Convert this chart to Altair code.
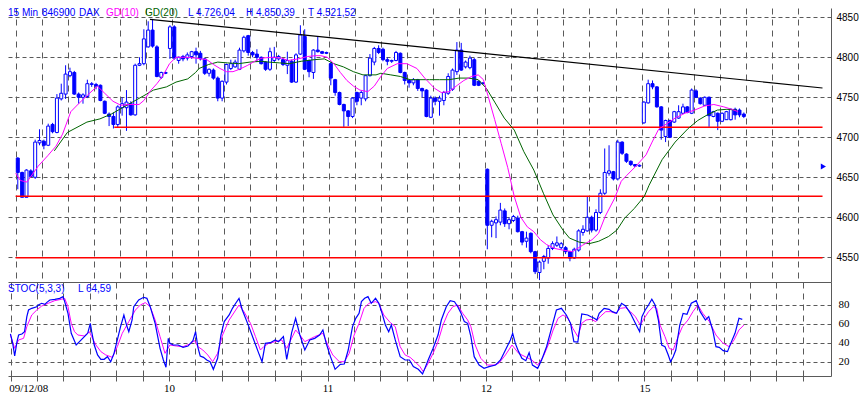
import altair as alt
import pandas as pd

# ---------------- data (15-min DAX candles, bar index = 15-min slot) ----------------
opens = [4674,4656,4625,4658,4650,4693,4695,4690,4716,4706,4748,4754,4777,4781,4754,4750,4751,4766,4766,4765,4745,4729,4726,4716,4737,4737,4742,4728,4790,4792,4813,4834,4813,4775,4781,4811,
         4838,4796,4801,4799,4801,4807,4805,4798,4780,4784,4774,4749,4769,4786,4788,4785,4808,4827,4806,4804,4800,4794,4785,4796,4798,4797,4790,4795,4769,4804,4826,4796,4781,4809,4807,4806,
         4792,4772,4756,4741,4733,4726,4756,4749,4748,4777,4794,4811,4810,4797,4795,4796,4805,4781,4771,4768,4772,4761,4759,4725,4749,4745,4746,4755,4760,4782,4809,4788,4787,4797,4770,4768,
         4660,4590,4593,4594,4608,4592,4596,4599,4582,4570,4580,4557,4531,4545,4549,4561,4565,4562,4562,4557,4549,4559,4581,4583,4600,4584,4606,4630,4655,4657,4648,4694,4679,4670,4666,4664,
         4718,4743,4767,4763,4738,4701,4721,4719,4724,4730,4738,4730,4758,4749,4740,4750,4726,4730,4720,4722,4722,4735,4734,4729]
highs = [4675,4657,4660,4660,4697,4710,4697,4717,4718,4754,4767,4790,4787,4783,4756,4755,4772,4769,4768,4766,4746,4731,4731,4740,4750,4759,4745,4792,4800,4835,4845,4848,4815,4782,4782,4840,
         4840,4801,4803,4806,4808,4812,4808,4799,4786,4786,4776,4771,4792,4797,4797,4812,4827,4828,4808,4810,4801,4795,4812,4813,4803,4799,4807,4797,4805,4840,4835,4797,4810,4826,4808,4807,
         4794,4773,4757,4742,4734,4750,4757,4758,4778,4804,4813,4815,4812,4800,4797,4808,4806,4782,4773,4774,4773,4762,4760,4752,4751,4752,4758,4780,4786,4819,4818,4796,4802,4799,4771,4769,
         4661,4597,4601,4618,4611,4600,4603,4602,4583,4582,4581,4558,4546,4553,4565,4570,4576,4569,4564,4558,4562,4585,4590,4626,4602,4610,4635,4686,4690,4658,4697,4695,4680,4671,4666,4666,
         4745,4772,4771,4764,4739,4722,4722,4733,4740,4742,4739,4761,4760,4750,4751,4751,4733,4731,4731,4733,4736,4737,4736,4731]
lows = [4635,4625,4625,4650,4648,4690,4685,4689,4705,4705,4746,4748,4775,4753,4742,4742,4749,4763,4760,4745,4729,4714,4711,4712,4727,4708,4727,4727,4789,4790,4812,4812,4775,4773,4779,4798,
        4797,4792,4795,4796,4798,4792,4796,4778,4776,4772,4745,4745,4766,4784,4787,4784,4806,4802,4800,4794,4791,4783,4783,4794,4796,4789,4779,4768,4768,4803,4784,4775,4773,4806,4804,4804,
        4765,4752,4740,4713,4714,4724,4740,4740,4745,4776,4790,4804,4795,4790,4793,4795,4780,4766,4762,4765,4758,4750,4725,4724,4740,4727,4740,4753,4758,4778,4783,4786,4785,4764,4764,4766,
        4560,4575,4574,4590,4588,4585,4594,4581,4565,4562,4555,4529,4521.5,4535,4542,4559,4563,4560,4554,4545,4548,4557,4577,4582,4581,4582,4604,4628,4652,4646,4646,4678,4668,4664,4663,4663,
        4717,4742,4760,4737,4697,4694,4699,4718,4723,4729,4730,4729,4749,4741,4739,4713,4725,4709,4719,4722,4721,4722,4725,4724]
closes = [4656,4625,4659,4651,4694,4696,4690,4714,4707,4749,4755,4779,4782,4754,4750,4753,4767,4767,4764,4746,4730,4726,4716,4738,4742,4744,4728,4790,4792,4823,4834,4814,4776,4781,4780,4838,
          4799,4800,4798,4803,4807,4803,4798,4780,4785,4774,4749,4770,4791,4792,4794,4809,4825,4806,4803,4800,4792,4785,4807,4800,4801,4791,4796,4769,4803,4828,4785,4782,4809,4807,4805,4805,
          4774,4756,4741,4733,4726,4749,4745,4756,4777,4799,4811,4806,4797,4795,4796,4806,4781,4771,4768,4772,4761,4758,4726,4749,4745,4749,4756,4776,4784,4809,4784,4794,4799,4765,4765,4767,
          4590,4595,4597,4609,4592,4597,4601,4582,4569,4574,4557,4532,4544,4551,4561,4567,4568,4567,4557,4549,4560,4583,4585,4600,4584,4606,4630,4656,4658,4648,4694,4680,4670,4666,4664,4665,
          4744,4767,4763,4738,4709,4721,4700,4732,4732,4738,4731,4759,4750,4742,4750,4727,4732,4720,4730,4732,4735,4728,4728,4726]

# moving averages (x = bar slot)
ma10_x = [0,1.1,2.6,5.2,7.4,9.3,10.8,12.7,14.5,16.8,18.8,20.5,22.4,24.2,26.1,28.4,29.5,31.0,32.5,33.9,35.4,36.9,39.2,41.4,44.0,45.5,47.0,48.5,50.0,51.5,53.4,55.3,56.7,59.0,61.2,62.7,65.0,67.2,69.1,70.2,71.7,73.2,74.7,76.2,77.7,79.2,81.0,82.5,84.0,85.5,87.8,90.0,92.3,94.1,96.4,97.9,99.7,101.6,103.1,104.9,106.4,107.6,108.7,110.2,111.7,113.2,114.7,116.2,117.7,119.2,120.7,122.1,124.0,125.9,128.1,130.4,132.6,134.1,135.6,137.8,139.3,140.5,142.7,145.0,146.4,147.9,149.8,151.7,153.9,156.2,158.4,160.6,162.9,164.7,166.2]
ma10_y = [4655,4646,4644,4664,4677,4689,4704,4732,4742,4754,4764,4755,4745,4740,4741,4741,4746,4758,4767,4777,4792,4800,4800,4799,4797,4791,4786,4782,4782,4785,4790,4796,4799,4800,4799,4796,4798,4801,4802,4802,4800,4792,4781,4771,4764,4759,4757,4764,4776,4786,4792,4792,4786,4774,4761,4756,4757,4765,4771,4776,4778,4772,4751,4722,4692,4662,4626,4600,4588,4582,4572,4566,4561,4559,4557,4565,4572,4580,4601,4624,4645,4652,4664,4678,4694,4710,4717,4724,4730,4734,4739,4741,4738,4735,4732]
ma20_x = [8.9,11.9,16.4,19.4,22.0,24.6,27.2,29.5,31.7,34.7,36.9,39.6,41.4,42.2,44.4,46.5,48.7,51.3,53.9,56.5,58.2,60.7,62.9,65.7,68.7,71.0,73.2,75.4,77.7,79.9,82.9,84.0,86.3,88.5,90.7,93.0,95.2,97.5,99.7,102.0,104.2,106.4,108.3,110.2,112.4,114.7,116.9,119.2,121.4,123.6,125.9,127.4,129.6,131.9,134.1,136.4,138.3,140.1,142.3,144.6,145.7,148.7,151.7,154.7,156.9,159.1,161.4,163.6,165.9]
ma20_y = [4683,4706,4719,4723,4729,4737,4745,4752,4759,4763,4769,4773,4781,4786,4791,4794,4793,4792,4794,4795,4794,4793,4792,4795,4797,4798,4792,4788,4782,4778,4778,4780,4778,4776,4772,4772,4772,4772,4772,4774,4774,4772,4761,4744,4724,4709,4682,4659,4630,4603,4584,4574,4569,4567,4570,4576,4584,4599,4611,4626,4640,4672,4694,4711,4721,4728,4734,4735,4734]

# stochastic %K and %D
k_x = [-0.05,0.47,0.92,1.44,1.81,2.56,3.16,3.68,4.06,4.8,5.93,6.3,7.05,7.79,8.17,8.91,10.04,11.16,11.9,12.28,13.03,13.77,14.89,15.64,16.76,17.51,18.11,18.41,19.0,19.75,20.5,21.25,22.0,22.74,23.49,24.24,24.98,25.73,26.33,26.85,27.6,27.97,29.1,30.22,30.96,31.71,32.83,33.95,34.7,35.3,35.82,36.19,36.94,38.06,39.18,40.3,41.42,42.02,42.55,43.07,43.82,44.56,45.31,46.06,47.03,47.78,48.53,49.65,50.4,51.14,51.89,52.64,54.13,55.25,56.38,57.12,57.87,58.99,60.11,60.86,61.98,62.73,63.85,
       64.75,65.72,66.84,67.96,69.08,70.2,70.95,71.7,72.67,73.72,74.91,75.81,76.7,77.68,78.42,79.17,79.7,80.44,81.19,81.94,82.91,83.66,84.4,85.15,85.9,86.5,87.39,88.51,89.63,90.61,91.5,92.62,93.6,94.12,94.87,95.99,97.11,97.86,98.98,99.87,100.85,101.59,102.34,103.09,103.84,104.58,105.33,106.45,107.57,108.69,110.19,111.31,112.43,113.55,114.07,114.67,115.42,116.17,117.06,117.81,118.56,119.75,120.65,121.77,122.89,124.01,125.14,126.26,127.23,127.98,
       128.87,129.77,131.11,131.86,132.61,133.2,133.73,134.85,135.97,136.72,137.69,138.81,139.71,140.83,141.95,142.92,143.44,144.19,144.94,145.69,146.43,147.18,147.93,148.68,149.42,149.95,150.54,151.14,152.04,152.79,153.68,154.65,155.78,156.67,157.87,158.62,159.51,160.26,161.01,161.9,162.88,163.62,164.59,165.49,166.24]
k_y = [49.5,39.6,26.3,41.4,48.4,49.5,51.9,67.7,74.7,76.5,78.2,80.0,81.8,80.7,82.5,85.3,86.0,87.0,88.8,83.5,71.2,50.2,37.9,41.4,46.7,50.2,60.7,51.9,37.9,27.4,22.8,22.8,25.6,20.3,29.1,43.2,57.2,69.5,58.9,51.9,64.2,78.2,85.3,88.1,87.0,78.2,60.7,34.4,22.1,14.4,44.9,39.6,37.9,37.9,35.4,36.8,42.5,51.9,35.4,26.3,24.9,22.1,20.3,12.3,23.9,48.4,62.5,69.5,76.5,81.8,87.0,74.7,57.2,43.2,29.1,20.3,39.6,40.3,43.2,41.4,46.7,22.8,51.0,
       66.0,48.4,32.6,43.2,44.9,48.4,53.7,39.6,25.6,12.3,17.5,17.9,32.6,57.2,66.0,71.2,83.5,87.0,88.8,81.8,87.0,81.8,71.2,58.9,51.9,58.9,43.2,25.6,22.1,22.1,15.1,12.3,7.4,13.3,22.1,34.4,48.4,64.2,78.2,84.6,83.5,78.2,71.2,62.5,60.7,46.7,25.6,16.8,13.3,15.1,16.8,22.1,32.6,43.2,50.2,39.6,30.9,23.9,21.4,29.8,16.8,13.3,22.1,36.1,55.4,74.7,76.5,69.5,60.7,41.4,
       41.0,70.5,69.5,67.7,66.0,64.2,71.2,76.5,75.4,73.0,71.2,81.8,79.0,71.2,60.7,51.9,67.7,74.7,80.0,86.0,80.0,64.2,37.9,36.1,27.4,20.3,25.6,32.6,58.9,71.2,70.2,81.8,84.6,73.0,64.2,67.7,53.7,36.1,35.4,31.9,30.9,39.6,50.2,66.0,64.9]
d_x = [-0.05,0.92,1.81,2.94,3.68,4.8,5.93,7.05,8.54,10.04,11.53,12.28,13.03,13.77,14.52,15.27,16.76,17.88,18.41,19.38,20.5,21.62,23.12,24.24,25.36,26.85,28.35,29.47,30.59,31.71,32.83,33.95,35.07,36.19,37.69,39.18,40.68,41.8,42.55,43.67,44.79,45.91,47.03,48.15,49.65,51.14,51.89,53.01,54.5,55.63,56.75,57.49,58.62,60.11,61.6,62.73,63.85,
       64.75,65.72,66.84,69.08,70.95,72.07,73.19,74.69,75.81,76.93,78.05,79.17,80.29,81.41,82.91,83.66,84.78,86.27,87.39,88.51,89.63,90.76,91.88,93.0,93.75,94.87,95.99,97.11,98.23,99.35,100.47,101.59,102.71,103.84,104.58,105.55,106.82,108.32,109.81,110.93,112.43,113.92,115.42,116.91,118.41,119.75,121.02,122.14,123.27,124.39,125.51,126.63,127.75,
       128.87,129.77,130.74,131.86,132.98,134.1,135.22,136.34,137.46,138.59,139.71,140.83,141.95,143.07,143.82,144.94,146.06,146.81,147.55,148.68,149.65,150.54,151.67,152.64,153.91,155.03,156.15,157.27,158.77,160.26,161.75,163.25,164.37,165.49,166.61]
d_y = [48.4,34.4,43.2,44.9,57.2,69.5,74.7,78.9,81.8,84.6,86.0,87.0,78.2,60.7,51.9,48.4,47.4,51.9,46.7,37.9,30.9,27.4,24.9,36.1,50.2,62.5,74.7,80.0,82.5,78.2,64.2,46.7,29.1,37.9,36.8,36.1,38.9,42.5,36.1,32.6,27.4,20.3,29.1,48.4,64.2,74.7,80.0,73.0,60.7,46.7,32.6,36.1,39.6,41.4,43.2,34.4,45.0,
       53.7,48.4,41.4,46.7,50.2,37.9,27.4,20.3,20.3,29.1,48.4,60.7,76.5,81.8,83.5,81.8,69.5,61.4,57.2,36.1,27.4,24.9,20.3,15.1,9.8,18.6,29.1,41.4,58.9,71.2,78.2,80.0,71.2,64.2,57.2,37.9,23.9,16.8,16.8,18.6,27.4,37.9,29.1,25.6,22.1,16.8,25.6,37.9,53.7,66.0,69.5,66.0,55.4,
       46.7,60.7,64.2,64.9,62.5,68.4,73.0,73.0,71.2,76.5,77.2,73.0,67.7,58.9,64.9,73.0,78.2,76.5,58.9,46.7,34.4,32.6,46.7,57.2,64.2,73.0,80.0,71.2,62.5,48.4,40.3,36.1,43.2,53.7,58.9]

# lines drawn on the chart
support_levels = [4626.3, 4549.5, 4712.5]
support_from = [0, 0, 22.7]
lines_to = 185.6
trend_x = [30.9, 185.6]
trend_y = [4847.5, 4761.6]
marker_x = [185.8]
marker_y = [4663.5]

# axis ticks / labels
day_starts = [0, 36, 72, 108, 144]
day_labels = ["09/12/08", "10", "11", "12", "15"]
grid_slots = list(range(0, 181, 6))
price_ticks = [4550, 4600, 4650, 4700, 4750, 4800, 4850]
stoch_ticks = [20, 40, 60, 80]

header_texts = ["15 Min", "846900", "DAX", "GD(10)", "GD(20)", "L  4.726,04", "H  4.850,39", "T  4.521,52"]
stoc_texts = ["STOC(5,3,3)", "L  64,59"]

# ---------------- styling ----------------
BLUE = "#0000ff"
MAGENTA = "#ff00ff"
GREEN = "#006400"
RED = "#ff0000"
GRID = "#5a5a5a"
W = 823
H1 = 274
H2 = 94

xs = alt.Scale(domain=[-0.6, 186.4], nice=False, zero=False)
ys_price = alt.Scale(domain=[4519.1, 4861.6], nice=False, zero=False)
ys_stoch = alt.Scale(domain=[5.26, 104.2], nice=False, zero=False)

x_axis_price = alt.Axis(values=grid_slots, labels=False, ticks=False, domain=True, domainColor=GRID,
                        grid=True, gridColor=GRID, gridDash=[6, 5], gridWidth=1, title=None)
label_expr = " : ".join(f"datum.value == {s} ? '{l}'" for s, l in zip(day_starts, day_labels)) + " : ''"
x_axis_stoch = alt.Axis(values=grid_slots, labelExpr=label_expr, labelOverlap=False,
                        labelAlign={"condition": {"test": "datum.value == 0", "value": "left"}, "value": "center"},
                        labelOffset={"condition": {"test": "datum.value == 0", "value": -2}, "value": 0},
                        labelFont="Liberation Serif", labelFontSize=11, labelColor="black", labelPadding=1,
                        ticks=True, tickSize=5, tickColor=GRID, domain=True, domainColor=GRID,
                        grid=True, gridColor=GRID, gridDash=[6, 5], gridWidth=1, title=None)
y_axis_price = alt.Axis(orient="right", values=price_ticks, format="d", labelFont="Liberation Sans", labelFontSize=10,
                        labelColor="black", labelPadding=5, ticks=False, domain=True, domainColor=GRID,
                        grid=True, gridColor=GRID, gridDash=[4, 3], gridWidth=1, title=None)
y_axis_stoch = alt.Axis(orient="right", values=stoch_ticks, format="d", labelFont="Liberation Serif", labelFontSize=11,
                        labelColor="black", labelPadding=7, ticks=False, domain=True, domainColor=GRID,
                        grid=True, gridColor=GRID, gridDash=[4, 3], gridWidth=1, title=None)


def px(field):
    return alt.X(field, type="quantitative", scale=xs, axis=x_axis_price)


def py(field):
    return alt.Y(field, type="quantitative", scale=ys_price, axis=y_axis_price)


# ---------------- price panel ----------------
cdf = pd.DataFrame({"bar": list(range(len(opens))), "open": opens, "high": highs, "low": lows, "close": closes})
base = alt.Chart(cdf).transform_calculate(mid="datum.bar + 0.5")

wicks = base.mark_rule(color=BLUE, strokeWidth=1).encode(x=px("mid"), y=py("low"), y2="high:Q")
bodies = base.mark_bar(size=3, stroke=BLUE, strokeWidth=1).encode(
    x=px("mid"), y=py("open"), y2="close:Q",
    fill=alt.condition("datum.close >= datum.open", alt.value("white"), alt.value(BLUE)),
)

lv = pd.DataFrame({"level": support_levels, "start": support_from, "end": [lines_to] * len(support_levels)})
red_lines = alt.Chart(lv).mark_rule(color=RED, strokeWidth=1.6).encode(x=px("start"), x2="end:Q", y=py("level"))
trend = alt.Chart(pd.DataFrame({"x": trend_x, "y": trend_y})).mark_line(color="black", strokeWidth=1.2).encode(
    x=px("x"), y=py("y"))
ma10 = alt.Chart(pd.DataFrame({"x": ma10_x, "y": ma10_y})).mark_line(color=MAGENTA, strokeWidth=1).encode(
    x=px("x"), y=py("y"))
ma20 = alt.Chart(pd.DataFrame({"x": ma20_x, "y": ma20_y})).mark_line(color=GREEN, strokeWidth=1).encode(
    x=px("x"), y=py("y"))
marker = alt.Chart(pd.DataFrame({"x": marker_x, "y": marker_y})).mark_point(
    shape="triangle-right", filled=True, color=BLUE, size=35, opacity=1).encode(x=px("x"), y=py("y"))

header_colors = [BLUE, BLUE, BLUE, MAGENTA, GREEN, BLUE, BLUE, BLUE]
header_px = [0, 34, 71, 98, 137, 180, 238, 300]
header_layers = [
    alt.Chart(pd.DataFrame({"t": [t]})).mark_text(
        align="left", baseline="top", font="Liberation Sans", fontSize=10, color=c
    ).encode(text="t:N", x=alt.value(p), y=alt.value(0))
    for t, c, p in zip(header_texts, header_colors, header_px)
]

price = alt.layer(wicks, bodies, red_lines, trend, ma20, ma10, marker, *header_layers).properties(width=W, height=H1)


# ---------------- stochastic panel ----------------
def sx(field):
    return alt.X(field, type="quantitative", scale=xs, axis=x_axis_stoch)


def sy(field):
    return alt.Y(field, type="quantitative", scale=ys_stoch, axis=y_axis_stoch)


k_line = alt.Chart(pd.DataFrame({"x": k_x, "y": k_y})).mark_line(color=BLUE, strokeWidth=1.2).encode(
    x=sx("x"), y=sy("y"))
d_line = alt.Chart(pd.DataFrame({"x": d_x, "y": d_y})).mark_line(color=MAGENTA, strokeWidth=1).encode(
    x=sx("x"), y=sy("y"))
stoc_px = [0, 70]
stoc_layers = [
    alt.Chart(pd.DataFrame({"t": [t]})).mark_text(
        align="left", baseline="top", font="Liberation Sans", fontSize=10, color=BLUE
    ).encode(text="t:N", x=alt.value(p), y=alt.value(2))
    for t, p in zip(stoc_texts, stoc_px)
]
stoch = alt.layer(d_line, k_line, *stoc_layers).properties(width=W, height=H2)

chart = (
    alt.vconcat(price, stoch, spacing=0)
    .properties(padding=0, background="white")
    .configure_view(stroke=None)
)

chart.save("out.html", embed_options={"renderer": "svg", "actions": False})
